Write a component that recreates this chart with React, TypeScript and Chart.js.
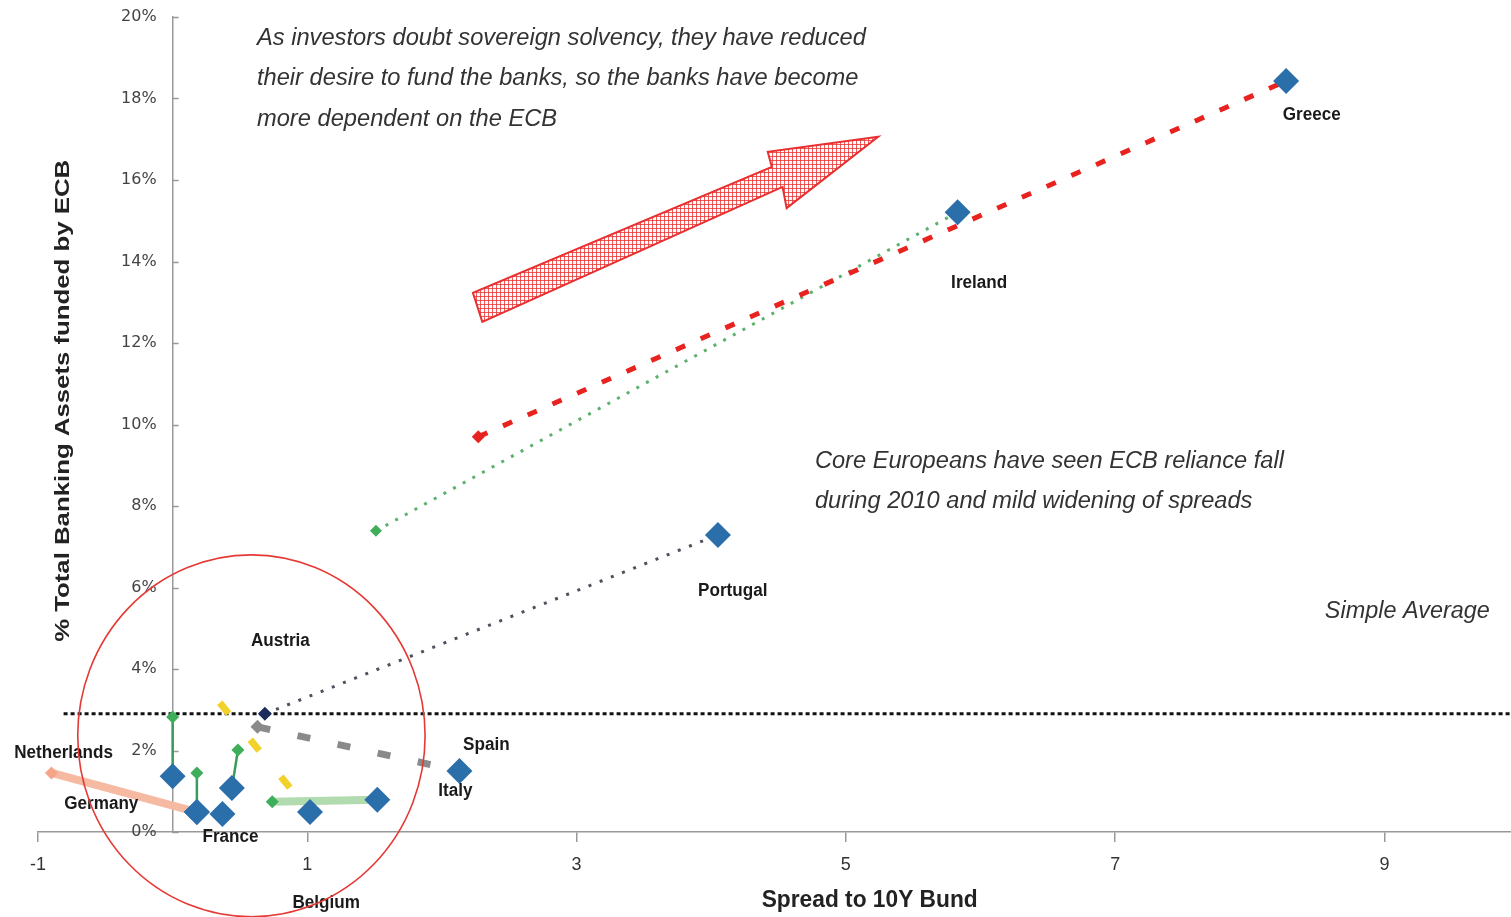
import React, { useEffect, useRef } from 'react';
import { Chart, registerables } from 'chart.js';

Chart.register(...registerables);

// ---------- DATA ----------
const seriesNames = ['Greece', 'Ireland', 'Portugal', 'Spain', 'Belgium', 'Italy', 'Netherlands', 'France', 'Austria', 'Germany'];
const startSpread = [2.27, 1.51, 0.685, 0.63, 0.35, 0.74, 0.0, 0.18, 0.485, -0.9];
const startShare = [9.7, 7.39, 2.9, 2.58, 3.17, 0.74, 2.82, 1.45, 2.01, 1.45];
const endSpread = [8.27, 5.83, 4.05, 2.13, 1.02, 1.52, 0.0, 0.18, 0.44, 0.18];
const endShare = [18.43, 15.21, 7.29, 1.5, 0.49, 0.79, 1.37, 0.49, 1.08, 0.49];

const loneSpread = [0.37];
const loneShare = [0.44];

const averageShare = 2.9;
const averageFrom = -0.81;
const averageTo = 9.94;

const xTickValues = [-1, 1, 3, 5, 7, 9];
const yTickValues = [0, 2, 4, 6, 8, 10, 12, 14, 16, 18, 20];

const countryLabels = ['Greece', 'Ireland', 'Portugal', 'Austria', 'Netherlands', 'Spain', 'Germany', 'Italy', 'France', 'Belgium'];
const countryLabelX = [8.46, 5.99, 4.16, 0.8, -0.81, 2.33, -0.53, 2.1, 0.43, 1.14];
const countryLabelY = [17.6, 13.47, 5.91, 4.69, 1.94, 2.13, 0.69, 1.01, -0.12, -1.74];

const topNoteLines = [
  'As investors doubt sovereign solvency, they have reduced',
  'their desire to fund the banks, so the banks have become',
  'more dependent on the ECB',
];
const topNoteX = 0.626;
const topNoteY = [19.46, 18.48, 17.47];

const coreNoteLines = ['Core Europeans have seen ECB reliance fall', 'during 2010 and mild widening of spreads'];
const coreNoteX = 4.77;
const coreNoteY = [9.1, 8.1];

const averageLabel = 'Simple Average';
const averageLabelX = 9.17;
const averageLabelY = 5.4;

const xTitle = 'Spread to 10Y Bund';
const yTitle = '% Total Banking Assets funded by ECB';

const arrowX = [5.24, 4.42, 4.45, 2.23, 2.3, 4.53, 4.56];
const arrowY = [17.06, 16.69, 16.32, 13.23, 12.52, 15.83, 15.31];

const circleCenter = [0.585, 2.36];
const circleRadius = [1.29, 4.44];

// ---------- STYLES ----------
const BLUE = '#2a6eaa';
const GREEN = '#3fae5a';
const lineStyles = [
  { color: '#e8231f', width: 5, dash: [10, 17], marker: '#e8231f', r: 6.5 },
  { color: '#5cb16d', width: 3, dash: [3, 8], marker: GREEN, r: 6 },
  { color: '#4d525e', width: 3, dash: [3, 9], marker: '#1c2b5e', r: 7 },
  { color: '#8a8a8a', width: 7, dash: [13, 28], marker: '#8a8a8a', r: 7 },
  { color: '#f2d12a', width: 7, dash: [14, 34], marker: '#f2d12a', r: 0 },
  { color: '#b3dbb0', width: 8, dash: [], marker: GREEN, r: 6.5 },
  { color: '#3c9a5a', width: 2.5, dash: [], marker: GREEN, r: 6.5 },
  { color: '#3c9a5a', width: 2.5, dash: [], marker: GREEN, r: 6.5 },
  { color: '#3c9a5a', width: 2.5, dash: [], marker: GREEN, r: 6.5 },
  { color: '#f6b9a2', width: 8, dash: [], marker: '#f4a58a', r: 6.5 },
];

function fitText(ctx: CanvasRenderingContext2D, text: string, x: number, y: number, sx: number, align: CanvasTextAlign) {
  ctx.save();
  ctx.translate(x, y);
  ctx.scale(sx, 1);
  ctx.textAlign = align;
  ctx.fillText(text, 0, 0);
  ctx.restore();
}

const decorPlugin = {
  id: 'decor',
  beforeDatasetsDraw(chart: any) {
    const { ctx, scales } = chart;
    const xs = scales.x, ys = scales.y;
    const pc = document.createElement('canvas');
    pc.width = 4; pc.height = 4;
    const p = pc.getContext('2d')!;
    p.fillStyle = '#ffffff'; p.fillRect(0, 0, 4, 4);
    p.fillStyle = 'rgba(232,50,50,0.8)';
    p.fillRect(0, 0, 4, 1); p.fillRect(0, 0, 1, 4);
    const pattern = ctx.createPattern(pc, 'repeat');
    ctx.save();
    ctx.beginPath();
    arrowX.forEach((v, i) => {
      const px = xs.getPixelForValue(v), py = ys.getPixelForValue(arrowY[i]);
      if (i === 0) ctx.moveTo(px, py); else ctx.lineTo(px, py);
    });
    ctx.closePath();
    ctx.fillStyle = pattern;
    ctx.fill();
    ctx.strokeStyle = '#e83030';
    ctx.lineWidth = 2;
    ctx.lineJoin = 'miter';
    ctx.stroke();
    ctx.restore();
    const ax = xs.getPixelForValue(0);
    ctx.save();
    ctx.strokeStyle = '#999';
    ctx.lineWidth = 1.5;
    yTickValues.forEach((v) => {
      const py = Math.round(ys.getPixelForValue(v)) + 0.5;
      ctx.beginPath(); ctx.moveTo(ax, py); ctx.lineTo(ax + 6, py); ctx.stroke();
    });
    ctx.restore();
  },
  afterDraw(chart: any) {
    const { ctx, scales } = chart;
    const xs = scales.x, ys = scales.y;
    ctx.save();
    ctx.textBaseline = 'middle';
    ctx.fillStyle = '#1a1a1a';
    ctx.font = 'bold 18px "Liberation Sans", Arial, sans-serif';
    countryLabels.forEach((t, i) => {
      fitText(ctx, t, xs.getPixelForValue(countryLabelX[i]), ys.getPixelForValue(countryLabelY[i]), 0.95, 'center');
    });
    ctx.fillStyle = '#333';
    ctx.font = 'italic 23px "Liberation Sans", Arial, sans-serif';
    const s1 = 609 / ctx.measureText(topNoteLines[0]).width;
    topNoteLines.forEach((t, i) => fitText(ctx, t, xs.getPixelForValue(topNoteX), ys.getPixelForValue(topNoteY[i]), s1, 'left'));
    const s2 = 469 / ctx.measureText(coreNoteLines[0]).width;
    coreNoteLines.forEach((t, i) => fitText(ctx, t, xs.getPixelForValue(coreNoteX), ys.getPixelForValue(coreNoteY[i]), s2, 'left'));
    const s3 = 165 / ctx.measureText(averageLabel).width;
    fitText(ctx, averageLabel, xs.getPixelForValue(averageLabelX), ys.getPixelForValue(averageLabelY), s3, 'center');
    ctx.fillStyle = '#222';
    ctx.font = 'bold 23px "Liberation Sans", Arial, sans-serif';
    const s4 = 216 / ctx.measureText(xTitle).width;
    fitText(ctx, xTitle, xs.getPixelForValue(5.177), ys.getPixelForValue(-1.69), s4, 'center');
    ctx.font = 'bold 21px "Liberation Sans", Arial, sans-serif';
    const s5 = 482 / ctx.measureText(yTitle).width;
    ctx.save();
    ctx.translate(xs.getPixelForValue(-0.814), ys.getPixelForValue(10.58));
    ctx.rotate(-Math.PI / 2);
    ctx.scale(s5, 1);
    ctx.textAlign = 'center';
    ctx.fillText(yTitle, 0, 0);
    ctx.restore();
    const cx = xs.getPixelForValue(circleCenter[0]);
    const cy = ys.getPixelForValue(circleCenter[1]);
    const rx = xs.getPixelForValue(circleCenter[0] + circleRadius[0]) - cx;
    const ry = cy - ys.getPixelForValue(circleCenter[1] + circleRadius[1]);
    ctx.beginPath();
    ctx.ellipse(cx, cy, rx, ry, 0, 0, Math.PI * 2);
    ctx.strokeStyle = '#e53935';
    ctx.lineWidth = 1.6;
    ctx.stroke();
    ctx.restore();
  },
};

export default function App() {
  const ref = useRef<HTMLCanvasElement>(null);
  useEffect(() => {
    document.body.style.margin = '0';
    document.body.style.overflow = 'hidden';
    const canvas = ref.current!;
    const datasets: any[] = seriesNames.map((name, i) => {
      const st = lineStyles[i];
      return {
        label: name,
        data: [
          { x: startSpread[i], y: startShare[i] },
          { x: endSpread[i], y: endShare[i] },
        ],
        showLine: true,
        borderColor: st.color,
        borderWidth: st.width,
        borderDash: st.dash,
        borderCapStyle: 'butt',
        pointStyle: 'rectRot',
        pointRadius: [st.r, 13],
        pointBackgroundColor: [st.marker, BLUE],
        pointBorderWidth: 0,
        pointBorderColor: 'rgba(0,0,0,0)',
        clip: false,
      };
    });
    datasets.push({
      label: 'Other',
      data: loneSpread.map((v, i) => ({ x: v, y: loneShare[i] })),
      showLine: false,
      pointStyle: 'rectRot',
      pointRadius: 13,
      pointBackgroundColor: BLUE,
      pointBorderWidth: 0,
      clip: false,
    });
    datasets.push({
      label: averageLabel,
      data: [
        { x: averageFrom, y: averageShare },
        { x: averageTo, y: averageShare },
      ],
      showLine: true,
      borderColor: '#111',
      borderWidth: 3,
      borderDash: [4, 3],
      pointRadius: 0,
      clip: false,
    });

    const chart = new Chart(canvas, {
      type: 'scatter',
      data: { datasets },
      options: {
        responsive: false,
        animation: false,
        devicePixelRatio: 1,
        layout: { autoPadding: false, padding: { left: 38, right: 0, top: 17, bottom: 0 } },
        plugins: { legend: { display: false }, tooltip: { enabled: false } },
        scales: {
          x: {
            type: 'linear',
            min: -1,
            max: 9.94,
            afterBuildTicks: (s: any) => { s.ticks = xTickValues.map((v) => ({ value: v })); },
            afterFit: (s: any) => { s.height = 85; s.paddingLeft = 0; s.paddingRight = 0; },
            grid: { drawOnChartArea: false, drawTicks: true, tickLength: 10, color: '#999', lineWidth: 1.5 },
            border: { color: '#999', width: 1.5 },
            ticks: { color: '#333', font: { family: '"Liberation Sans", Arial', size: 18 }, padding: 12, callback: (v: any) => String(v) },
          },
          y: {
            type: 'linear',
            min: 0,
            max: 20,
            position: { x: 0 } as any,
            afterBuildTicks: (s: any) => { s.ticks = yTickValues.map((v) => ({ value: v })); },
            afterFit: (s: any) => { s.width = 0; },
            grid: { drawOnChartArea: false, drawTicks: false },
            border: { color: '#999', width: 1.5 },
            ticks: { color: '#444', font: { family: '"DejaVu Sans"', size: 16 }, padding: 0, callback: (v: any) => v + '%\u2002\u2002' },
          },
        },
      } as any,
      plugins: [decorPlugin],
    });
    return () => chart.destroy();
  }, []);
  return (
    <div style={{ width: 1511, height: 917, background: '#fff' }}>
      <canvas ref={ref} width={1511} height={917} style={{ display: 'block' }} />
    </div>
  );
}
